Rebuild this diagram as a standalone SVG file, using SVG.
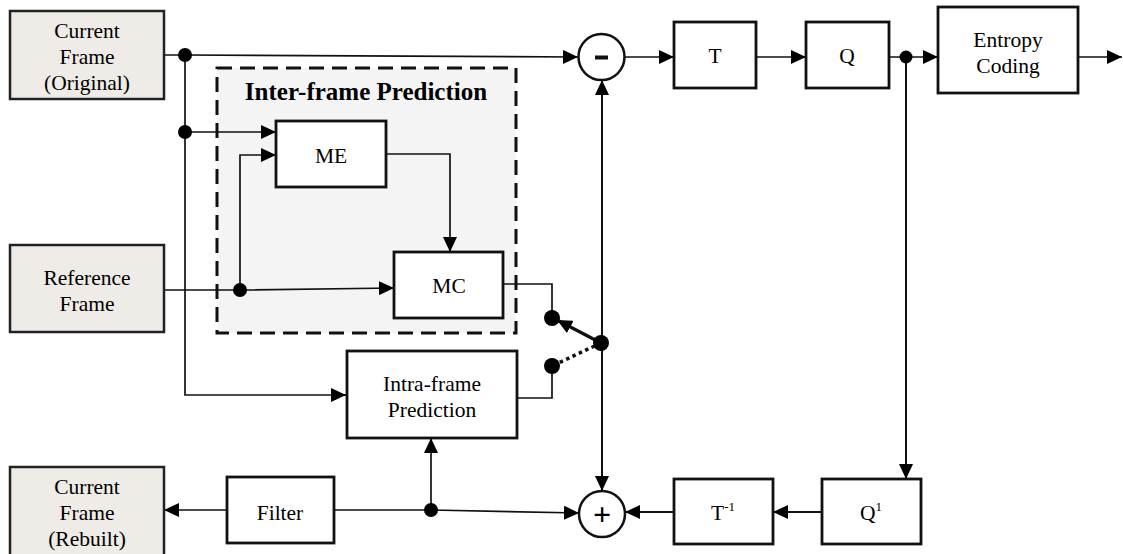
<svg xmlns="http://www.w3.org/2000/svg" width="1123" height="554" viewBox="0 0 1123 554" font-family="'Liberation Serif', 'Times New Roman', Times, serif">
<defs>
<marker id="arr" markerUnits="userSpaceOnUse" markerWidth="16" markerHeight="14" refX="15" refY="7" orient="auto">
<path d="M0,0 L15,7 L0,14 z" fill="#000"/>
</marker>
<style>
text{font-size:21.5px;fill:#000;text-anchor:middle}
.frame{fill:#efebe7;stroke:#222;stroke-width:2.5}
.box{fill:#fff;stroke:#111;stroke-width:2.8}
.ln{fill:none;stroke:#111;stroke-width:1.7}
.lna{fill:none;stroke:#111;stroke-width:1.7;marker-end:url(#arr)}
.dot{fill:#000}
.op{fill:#fff;stroke:#111;stroke-width:2.5}
</style>
</defs>

<g id="inter-frame-group">
<rect x="217" y="68" width="299" height="265" fill="#f4f4f4" stroke="#111" stroke-width="3" stroke-dasharray="15 8"/>
<text x="366" y="100" font-weight="bold" style="font-size:25px">Inter-frame Prediction</text>
</g>

<g id="connectors">
<polyline class="lna" points="164,55 185,55 578,57"/>
<polyline class="ln" points="185,55 185,395 346,395"/>
<line class="lna" x1="340" y1="395" x2="346" y2="395"/>
<line class="lna" x1="185" y1="132" x2="276" y2="132"/>
<polyline class="lna" points="240,290 240,155 276,155"/>
<polyline class="lna" points="164,290 240,290 394,288"/>
<polyline class="lna" points="386,154 450,154 450,252"/>
<polyline class="ln" points="503,284 552,284 552,318"/>
<polyline class="ln" points="517,398 552,398 552,366"/>
<line x1="601" y1="343" x2="557" y2="320" stroke="#111" stroke-width="3.2" marker-end="url(#arr)"/>
<line x1="601" y1="343" x2="552" y2="366" stroke="#111" stroke-width="3.5" stroke-dasharray="3.5 3.5"/>
<line class="lna" x1="602" y1="343" x2="602" y2="80" style="stroke-width:2"/>
<line class="lna" x1="602" y1="343" x2="602" y2="491" style="stroke-width:2"/>
<line class="lna" x1="625" y1="57" x2="674" y2="57"/>
<line class="lna" x1="756" y1="57" x2="806" y2="57"/>
<polyline class="lna" points="889,57 938,57"/>
<line class="lna" x1="1078" y1="57" x2="1122" y2="57"/>
<polyline class="lna" points="906,57 906,479" style="stroke-width:2"/>
<line class="lna" x1="822" y1="512" x2="773" y2="512" style="stroke-width:2"/>
<line class="lna" x1="674" y1="512" x2="625" y2="512" style="stroke-width:2"/>
<polyline class="lna" points="334,510 431,510 579,513"/>
<line class="lna" x1="431" y1="510" x2="431" y2="438"/>
<line class="lna" x1="227" y1="510" x2="164" y2="510"/>
<circle class="dot" cx="185" cy="55" r="7"/>
<circle class="dot" cx="185" cy="132" r="7"/>
<circle class="dot" cx="240" cy="290" r="7"/>
<circle class="dot" cx="552" cy="318" r="8"/>
<circle class="dot" cx="552" cy="366" r="8"/>
<circle class="dot" cx="601" cy="343" r="8"/>
<circle class="dot" cx="906" cy="57" r="6.5"/>
<circle class="dot" cx="431" cy="510" r="7"/>
</g>

<g id="current-frame-original">
<rect class="frame" x="10" y="11" width="154" height="88"/>
<text x="87" y="38">Current</text>
<text x="87" y="64">Frame</text>
<text x="87" y="90">(Original)</text>
</g>

<g id="reference-frame">
<rect class="frame" x="10" y="245" width="154" height="87"/>
<text x="87" y="285">Reference</text>
<text x="87" y="311">Frame</text>
</g>

<g id="current-frame-rebuilt">
<rect class="frame" x="10" y="467" width="154" height="90"/>
<text x="87" y="494">Current</text>
<text x="87" y="520">Frame</text>
<text x="87" y="546">(Rebuilt)</text>
</g>

<g id="me">
<rect class="box" x="276" y="121" width="110" height="66"/>
<text x="331" y="163">ME</text>
</g>

<g id="mc">
<rect class="box" x="394" y="252" width="109" height="66"/>
<text x="449" y="293">MC</text>
</g>

<g id="intra-frame-prediction">
<rect class="box" x="347" y="351" width="170" height="87"/>
<text x="432" y="391">Intra-frame</text>
<text x="432" y="417">Prediction</text>
</g>

<g id="minus">
<circle class="op" cx="601.5" cy="57" r="23"/>
<rect x="595" y="55.5" width="13" height="4" fill="#111"/>
</g>

<g id="plus">
<circle class="op" cx="602" cy="514" r="23"/>
<text x="602" y="525" font-weight="bold" style="font-size:32px">+</text>
</g>

<g id="t">
<rect class="box" x="674" y="22" width="82" height="66"/>
<text x="715" y="63">T</text>
</g>

<g id="q">
<rect class="box" x="806" y="22" width="83" height="66"/>
<text x="847" y="63">Q</text>
</g>

<g id="entropy-coding">
<rect class="box" x="938" y="7" width="140" height="86"/>
<text x="1008" y="47">Entropy</text>
<text x="1008" y="73">Coding</text>
</g>

<g id="q-inverse">
<rect class="box" x="822" y="479" width="99" height="65"/>
<text x="871" y="520">Q<tspan style="font-size:13px" dy="-9">1</tspan></text>
</g>

<g id="t-inverse">
<rect class="box" x="674" y="479" width="99" height="65"/>
<text x="723" y="520">T<tspan style="font-size:13px" dy="-9">-1</tspan></text>
</g>

<g id="filter">
<rect class="box" x="227" y="477" width="107" height="66"/>
<text x="280" y="520">Filter</text>
</g>
</svg>
